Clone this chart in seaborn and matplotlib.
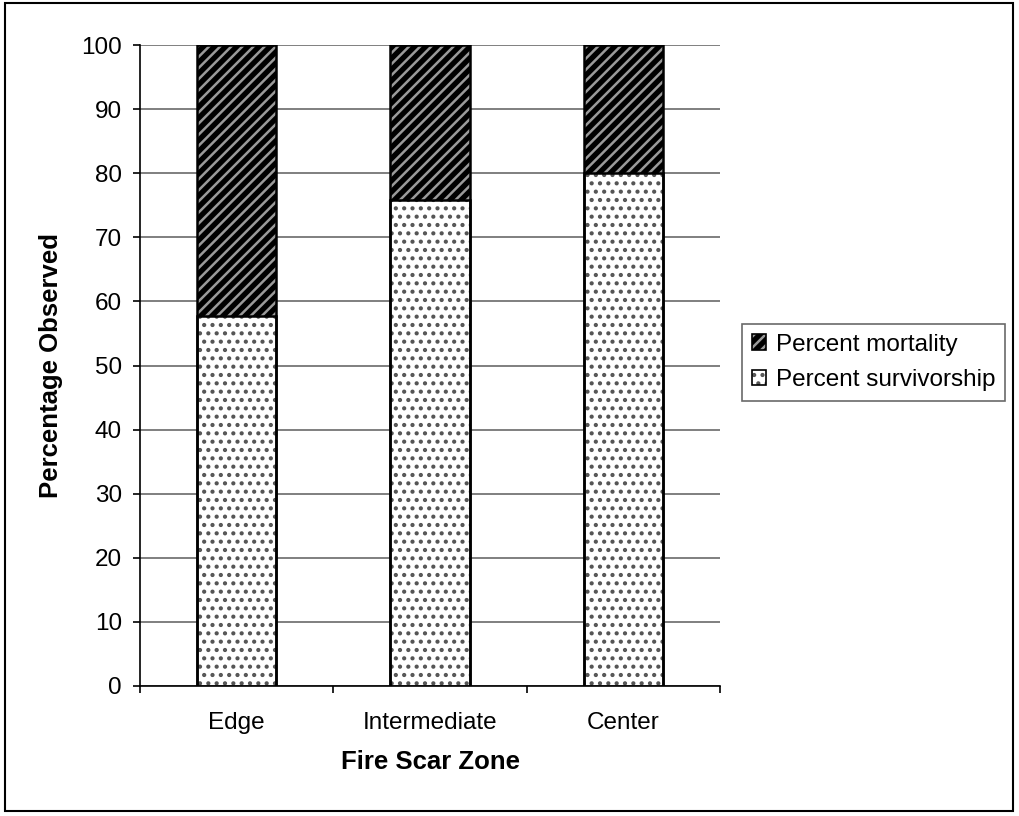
import matplotlib
matplotlib.use("Agg")
import matplotlib.pyplot as plt
from matplotlib.patches import Patch, Rectangle
from matplotlib.legend_handler import HandlerTuple
import seaborn as sns

# Data
zones = ["Edge", "Intermediate", "Center"]
survivorship = [57.8, 75.8, 80.0]
mortality = [42.2, 24.2, 20.0]
totals = [s + m for s, m in zip(survivorship, mortality)]
y_ticks = list(range(0, 101, 10))

sns.set_style("white")
plt.rcParams["font.family"] = ["Liberation Sans", "DejaVu Sans"]
plt.rcParams["hatch.linewidth"] = 1.8
plt.rcParams["text.color"] = "black"
plt.rcParams["axes.labelcolor"] = "black"
plt.rcParams["xtick.color"] = "black"
plt.rcParams["ytick.color"] = "black"

fig = plt.figure(figsize=(10.19, 8.16), dpi=100)
ax = fig.add_axes([140 / 1019, 1 - 686 / 816, 580 / 1019, 641 / 816])

bar_w = 0.41
stripe_col = "#9a9a9a"
dot_col = "#555555"

# Mortality segment (full stack height, covered below by survivorship)
sns.barplot(x=zones, y=totals, color="black", edgecolor=stripe_col, hatch="///",
            linewidth=0, width=bar_w, saturation=1, errorbar=None, ax=ax, zorder=2)
# Survivorship segment
sns.barplot(x=zones, y=survivorship, color="white", edgecolor=dot_col, hatch="..",
            linewidth=0, width=bar_w, saturation=1, errorbar=None, ax=ax, zorder=3)
# Outlines
sns.barplot(x=zones, y=totals, fill=False, color="black", linewidth=1.8,
            width=bar_w, saturation=1, errorbar=None, ax=ax, zorder=4)
sns.barplot(x=zones, y=survivorship, fill=False, color="black", linewidth=1.8,
            width=bar_w, saturation=1, errorbar=None, ax=ax, zorder=4)

ax.set_xlim(-0.5, len(zones) - 0.5)
ax.set_ylim(0, 100)
ax.set_yticks(y_ticks)
ax.set_xticks([i - 0.5 for i in range(len(zones) + 1)], minor=True)

ax.yaxis.grid(True, color="#6a6a6a", linewidth=1.2, zorder=0)
ax.set_axisbelow(True)
for s in ("top", "right"):
    ax.spines[s].set_visible(False)
for s in ("left", "bottom"):
    ax.spines[s].set_color("black")
    ax.spines[s].set_linewidth(1.2)

ax.tick_params(axis="y", which="major", direction="out", length=5, width=1.2,
               color="black", labelcolor="black", labelsize=17.5, pad=8, left=True)
ax.tick_params(axis="x", which="major", length=0, labelsize=17.5, pad=19,
               labelcolor="black")
ax.tick_params(axis="x", which="minor", direction="out", length=5, width=1.2,
               color="black", bottom=True)

ax.set_xlabel("Fire Scar Zone", fontsize=18.5, fontweight="bold", labelpad=11,
              color="black")
ax.set_ylabel("Percentage Observed", fontsize=18.5, fontweight="bold", labelpad=13,
              color="black")

# Legend
h_mort = (Patch(facecolor="black", edgecolor=stripe_col, hatch="///", linewidth=0),
          Patch(facecolor="none", edgecolor="black", linewidth=1.2))
h_surv = (Patch(facecolor="white", edgecolor=dot_col, hatch="..", linewidth=0),
          Patch(facecolor="none", edgecolor="black", linewidth=1.2))
leg = fig.legend([h_mort, h_surv], ["Percent mortality", "Percent survivorship"],
                 handler_map={tuple: HandlerTuple(ndivide=1, pad=0)},
                 loc="upper left", bbox_to_anchor=(742 / 1019, 1 - 324 / 816),
                 borderaxespad=0, fontsize=17.5, frameon=True, fancybox=False,
                 handlelength=0.6, handleheight=0.6, handletextpad=0.4,
                 borderpad=0.4, labelspacing=0.55)
leg.get_frame().set_edgecolor("#444444")
leg.get_frame().set_linewidth(1.2)
for t in leg.get_texts():
    t.set_color("black")

# Outer chart frame
fig.patches.append(Rectangle((5 / 1019, 1 - 811 / 816), 1008 / 1019, 808 / 816,
                             transform=fig.transFigure, fill=False,
                             edgecolor="black", linewidth=1.5))

fig.savefig("out.png", dpi=100)
